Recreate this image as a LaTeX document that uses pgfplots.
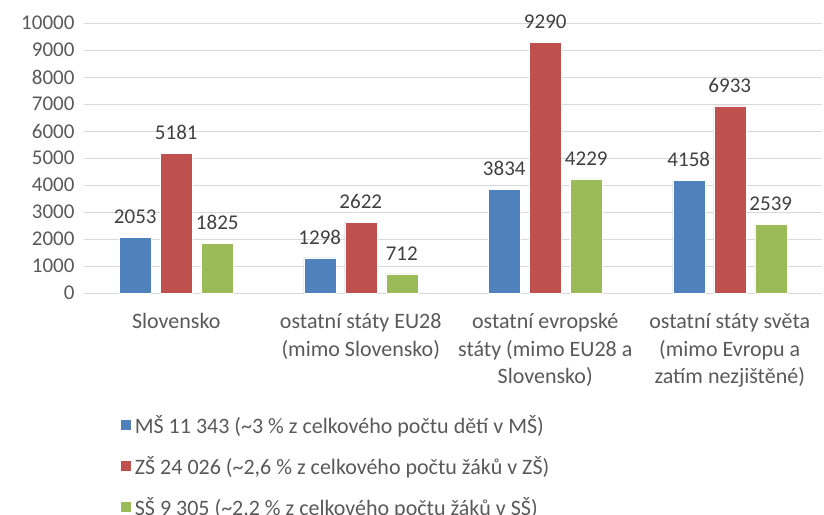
\documentclass[border=0pt]{standalone}
\usepackage{fontspec}
\setmainfont{Carlito}
\usepackage{pgfplots}
\pgfplotsset{compat=1.18}
\definecolor{cblue}{HTML}{4F81BD}
\definecolor{cred}{HTML}{C0504D}
\definecolor{cgreen}{HTML}{9BBB59}
\definecolor{grid}{HTML}{D9D9D9}
\definecolor{txt}{HTML}{595959}
\definecolor{dtxt}{HTML}{404040}
\newcommand{\f}{\fontsize{21}{27}\selectfont}
\newcommand{\g}{\fontsize{22}{27.5}\selectfont}
\begin{document}
\begin{tikzpicture}
\path[use as bounding box] (-84pt,-221pt) rectangle (740pt,293pt);
\begin{axis}[
  at={(0,0)}, anchor=south west,
  scale only axis, width=738pt, height=270pt,
  xmin=-0.5, xmax=3.5, ymin=0, ymax=10000,
  ybar=9pt, bar width=32pt,
  axis y line*=left, axis x line*=bottom,
  y axis line style={draw=none},
  x axis line style={draw=grid, line width=1pt},
  ymajorgrids, grid style={draw=grid, line width=1pt},
  ytick={0,1000,...,10000},
  major tick length=0pt,
  xtick={0,1,2,3},
  xticklabels={Slovensko, ostatní státy EU28\\(mimo Slovensko), ostatní evropské\\státy (mimo EU28 a\\Slovensko), ostatní státy světa\\(mimo Evropu a\\zatím nezjištěné)},
  xticklabel style={align=center, font=\g, text=txt, yshift=-17pt},
  yticklabel style={font=\f, text=txt, xshift=-6pt},
  /pgf/number format/assume math mode=true,
  scaled y ticks=false,
  yticklabel={\pgfmathprintnumber[fixed,1000 sep={}]{\tick}},
  nodes near coords,
  nodes near coords style={font=\f, text=dtxt, yshift=10pt, /pgf/number format/1000 sep={}},
  legend style={at={(0.049,-0.44)}, anchor=north west, draw=none, fill=none,
    font=\g, text=txt, row sep=15.5pt, inner sep=0pt,
    nodes={inner sep=3pt, anchor=west}},
  legend cell align=left,
  legend image code/.code={\fill[#1] (0pt,-5.5pt) rectangle (11pt,5.5pt);},
  clip=false,
]
\addplot[fill=cblue, draw=white, line width=0.5pt] coordinates {(0,2053) (1,1298) (2,3834) (3,4158)};
\addplot[fill=cred, draw=white, line width=0.5pt] coordinates {(0,5181) (1,2622) (2,9290) (3,6933)};
\addplot[fill=cgreen, draw=white, line width=0.5pt] coordinates {(0,1825) (1,712) (2,4229) (3,2539)};
\legend{{MŠ 11 343 (\textasciitilde3 \% z celkového počtu dětí v MŠ)}, {ZŠ 24 026 (\textasciitilde2,6 \% z celkového počtu žáků v ZŠ)}, {SŠ 9 305 (\textasciitilde2,2 \% z celkového počtu žáků v SŠ)}}
\end{axis}
\end{tikzpicture}
\end{document}
